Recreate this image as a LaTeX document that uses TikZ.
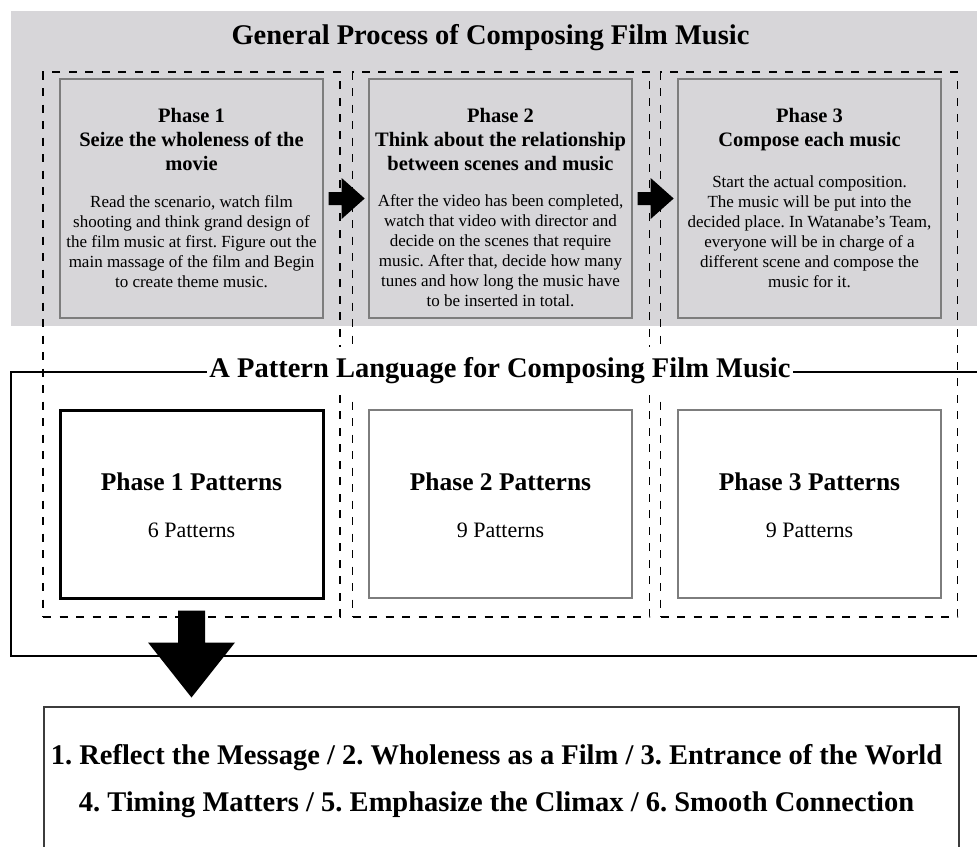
\documentclass[tikz,border=0pt]{standalone}
\usepackage{fontspec}
\setmainfont{Liberation Serif}
\frenchspacing
\definecolor{bandgray}{RGB}{215,214,217}
\definecolor{boxline}{RGB}{125,125,125}
\definecolor{listline}{RGB}{60,60,60}
\begin{document}
\frenchspacing
\begin{tikzpicture}[x=1pt,y=-1pt,
  dashcol/.style={draw=black, line width=1.4pt, dash pattern=on 8pt off 8.5pt,
    minimum width=297pt, minimum height=545pt, inner sep=0pt},
  phasebox/.style={draw=boxline, line width=1.3pt, fill=bandgray,
    minimum width=263pt, minimum height=239pt, inner sep=0pt},
  patbox/.style={draw=boxline, line width=1.2pt, fill=white,
    minimum width=263pt, minimum height=188pt, inner sep=0pt},
  patboxbold/.style={patbox, draw=black, line width=3pt},
  bigtitle/.style={font=\fontsize{28.5}{34}\selectfont\bfseries, inner sep=0pt},
  phasehead/.style={font=\fontsize{20.5}{24}\selectfont\bfseries, align=center, inner sep=0pt},
  phasebody/.style={font=\fontsize{17}{20}\selectfont, align=center, inner sep=0pt},
  pathead/.style={font=\fontsize{25.5}{30}\selectfont\bfseries, inner sep=0pt},
  patcount/.style={font=\fontsize{22}{26}\selectfont, inner sep=0pt},
  blockarrow/.style={fill=black}
]
\useasboundingbox (0,0) rectangle (977,846);
\fill[white] (0,0) rectangle (977,846);

% gray band
\fill[bandgray] (11,11) rectangle (990,326);
\node[bigtitle] (gtitle) at (490.5,38) {General Process of Composing Film Music};

% dashed columns
\node[dashcol] (col1) at (191.5,344.5) {};
\node[dashcol] (col2) at (501,344.5) {};
\node[dashcol] (col3) at (809,344.5) {};

% phase boxes
\node[phasebox] (b1) at (191.5,198.5) {};
\node[phasebox] (b2) at (500.5,198.5) {};
\node[phasebox] (b3) at (809.5,198.5) {};

\node[phasehead] (h1) at (191.5,139.5) {Phase 1\\Seize the wholeness of the\\movie};
\node[phasebody] (t1) at (191.5,242) {Read the scenario, watch film\\shooting and think grand design of\\the film music at first. Figure out the\\main massage of the film and Begin\\to create theme music.};

\node[phasehead] (h2) at (500.5,140) {Phase 2\\Think about the relationship\\between scenes and music};
\node[phasebody] (t2) at (500.5,250.5) {After the video has been completed,\\watch that video with director and\\decide on the scenes that require\\music. After that, decide how many\\tunes and how long the music have\\to be inserted in total.};

\node[phasehead] (h3) at (809.5,129.5) {Phase 3\\Compose each music};
\node[phasebody] (t3) at (809.5,231.5) {Start the actual composition.\\The music will be put into the\\decided place. In Watanabe’s Team,\\everyone will be in charge of a\\different scene and compose the\\music for it.};

% pattern boxes
\node[patboxbold] (p1) at (191.5,504) {};
\node[patbox] (p2) at (500.5,504) {};
\node[patbox] (p3) at (809.5,504) {};
\node[pathead] at (191.5,482) {Phase 1 Patterns};
\node[patcount] at (191.5,530) {6 Patterns};
\node[pathead] at (500.5,482) {Phase 2 Patterns};
\node[patcount] at (500.5,530) {9 Patterns};
\node[pathead] at (809.5,482) {Phase 3 Patterns};
\node[patcount] at (809.5,530) {9 Patterns};

% pattern language frame
\draw[line width=2pt, draw=black] (995,372) -- (11,372) -- (11,656) -- (995,656);
\node[bigtitle, fill=white, inner xsep=2pt, minimum height=48pt] (pltitle) at (500,371)
  {A Pattern Language for Composing Film Music};

% block arrows
\fill[blockarrow] ([xshift=5pt]b1.east) ++(0,-6.5) -- ++(13,0) -- ++(0,-14) -- ++(23,20.5)
  -- ++(-23,20.5) -- ++(0,-14) -- ++(-13,0) -- cycle;
\fill[blockarrow] ([xshift=5pt]b2.east) ++(0,-6.5) -- ++(13,0) -- ++(0,-14) -- ++(23,20.5)
  -- ++(-23,20.5) -- ++(0,-14) -- ++(-13,0) -- cycle;
\fill[blockarrow] ([yshift=-11pt]p1.south) ++(-13.5,0) -- ++(0,32) -- ++(-30,0) -- ++(43.5,55)
  -- ++(43.5,-55) -- ++(-30,0) -- ++(0,-32) -- cycle;

% list box
\draw[line width=2pt, draw=listline] (44,880) -- (44,707) -- (959,707) -- (959,880);
\node[bigtitle, align=center, font=\fontsize{28.5}{47}\selectfont\bfseries] (list) at (496.5,781.5)
  {1. Reflect the Message / 2. Wholeness as a Film / 3. Entrance of the World\\
   4. Timing Matters / 5. Emphasize the Climax / 6. Smooth Connection};
\end{tikzpicture}
\end{document}
